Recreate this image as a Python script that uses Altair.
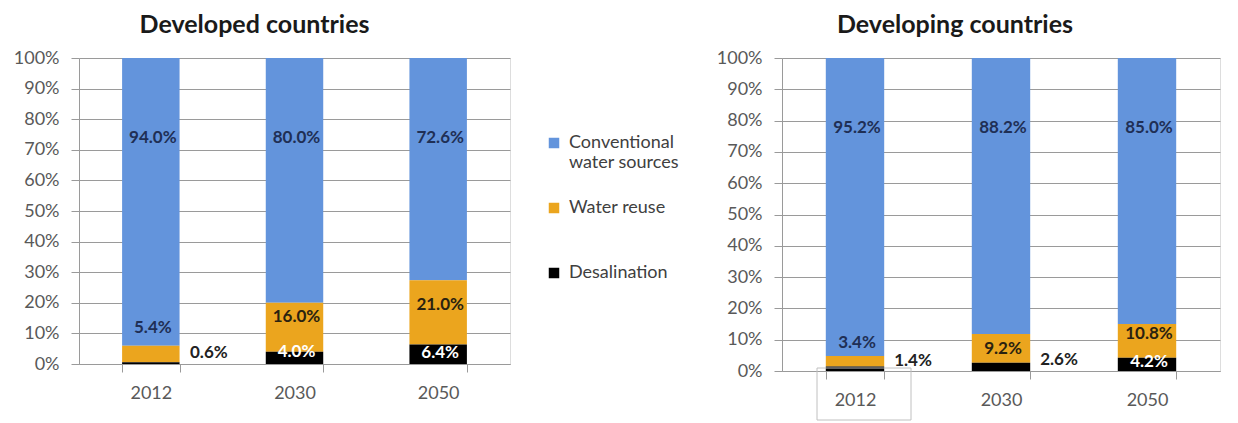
import altair as alt
import pandas as pd

years = ["2012", "2030", "2050"]
sources = ["Conventional water sources", "Water reuse", "Desalination"]
colors = ["#6394DC", "#EBA51E", "#000000"]

developed_conventional = [94.0, 80.0, 72.6]
developed_reuse = [5.4, 16.0, 21.0]
developed_desal = [0.6, 4.0, 6.4]

developing_conventional = [95.2, 88.2, 85.0]
developing_reuse = [3.4, 9.2, 10.8]
developing_desal = [1.4, 2.6, 4.2]

# heights (in %) at which the source chart's labels were hand-placed
developed_conv_label_at = [74.0, 74.0, 74.0]
developed_reuse_label_at = [11.8, 15.4, 19.3]
developed_desal_label_at = [3.6, 4.0, 3.6]
developing_conv_label_at = [77.6, 77.6, 77.6]
developing_reuse_label_at = [9.0, 7.0, 11.8]
developing_desal_label_at = [3.2, 3.5, 3.0]

FONT = "Lato"


def build_frame(conv, reuse, desal, conv_at, reuse_at, desal_at):
    rows = []
    for i, yr in enumerate(years):
        rows.append(dict(year=yr, source=sources[0], value=conv[i] / 100, order=2,
                         label=f"{conv[i]:.1f}%", label_y=conv_at[i] / 100,
                         label_color="#1F2F55", outside=False))
        rows.append(dict(year=yr, source=sources[1], value=reuse[i] / 100, order=1,
                         label=f"{reuse[i]:.1f}%", label_y=reuse_at[i] / 100,
                         label_color="#1F2F55" if reuse[i] < 6 else "#2a2210", outside=False))
        small = desal[i] < 3.0
        rows.append(dict(year=yr, source=sources[2], value=desal[i] / 100, order=0,
                         label=f"{desal[i]:.1f}%", label_y=desal_at[i] / 100,
                         label_color="#222222" if small else "#ffffff", outside=small))
    return pd.DataFrame(rows)


dev_df = build_frame(developed_conventional, developed_reuse, developed_desal,
                     developed_conv_label_at, developed_reuse_label_at, developed_desal_label_at)
ing_df = build_frame(developing_conventional, developing_reuse, developing_desal,
                     developing_conv_label_at, developing_reuse_label_at, developing_desal_label_at)

x_scale = alt.Scale(domain=years, paddingInner=0.6, paddingOuter=0.3)
y_scale = alt.Scale(domain=[0, 1], nice=False)

x_axis = alt.Axis(title=None, labelAngle=0, tickBand="extent", ticks=True, tickSize=8,
                  labelPadding=12, labelFontSize=18, labelColor="#595959", labelFont=FONT,
                  domainColor="#9a9a9a", tickColor="#9a9a9a", grid=False)
y_axis = alt.Axis(title=None, format=".0%", values=[i / 10 for i in range(11)], tickSize=8,
                  labelPadding=12, labelFontSize=18, labelColor="#595959", labelFont=FONT,
                  labelOverlap=False, domainColor="#9a9a9a", tickColor="#9a9a9a",
                  gridColor="#9a9a9a", grid=True)


def panel(df, title, w, h, dx, with_legend, extra=None):
    base = alt.Chart(df)
    if with_legend:
        legend = alt.Legend(
            title=None, orient="none", legendX=466, legendY=76, symbolType="square",
            symbolSize=110, symbolStrokeWidth=0, labelFontSize=18, labelFont=FONT,
            labelColor="#404040", rowPadding=27, padding=0, labelOffset=6,
            labelExpr="datum.label == 'Conventional water sources' ? ['Conventional', 'water sources'] : [datum.label, '']",
        )
    else:
        legend = None
    X = alt.X("year:N", scale=x_scale, axis=x_axis, sort=years)
    bars = base.mark_bar().encode(
        x=X,
        y=alt.Y("value:Q", stack="zero", scale=y_scale, axis=y_axis),
        color=alt.Color("source:N", scale=alt.Scale(domain=sources, range=colors), legend=legend),
        order=alt.Order("order:Q"),
    )
    inside = base.transform_filter("!datum.outside").mark_text(
        font=FONT, fontSize=17, fontWeight="bold", baseline="middle", align="center", dx=2
    ).encode(
        x=X,
        y=alt.Y("label_y:Q", scale=y_scale, axis=y_axis),
        text="label:N",
        color=alt.Color("label_color:N", scale=None),
    )
    outside = base.transform_filter("datum.outside").mark_text(
        font=FONT, fontSize=17, fontWeight="bold", baseline="middle", align="center", dx=58
    ).encode(
        x=X,
        y=alt.Y("label_y:Q", scale=y_scale, axis=y_axis),
        text="label:N",
        color=alt.Color("label_color:N", scale=None),
    )
    layers = [bars, inside, outside]
    if extra is not None:
        layers.append(extra)
    return alt.layer(*layers).properties(
        width=w, height=h,
        title=alt.TitleParams(title, fontSize=25, fontWeight="bold", font=FONT, color="#1a1a1a",
                              anchor="middle", dx=dx, offset=11),
    )


# thin grey box left around the "2012" category label in the second chart
box = alt.Chart(pd.DataFrame({"k": [0]})).mark_rect(
    fillOpacity=0, stroke="#c0c0c0", strokeWidth=1
).encode(x=alt.value(35), x2=alt.value(129), y=alt.value(310), y2=alt.value(362))

left = panel(dev_df, "Developed countries", 431, 306, -40, True)
right = panel(ing_df, "Developing countries", 438, 313, -46, False, extra=box)

chart = alt.hconcat(left, right, spacing=272, bounds="flush").resolve_scale(
    color="independent"
).properties(
    padding={"left": 12, "top": 12, "right": 5, "bottom": 0}
).configure_view(stroke=None).configure(font=FONT)

chart.save("out.html", embed_options={"renderer": "svg", "actions": False})
